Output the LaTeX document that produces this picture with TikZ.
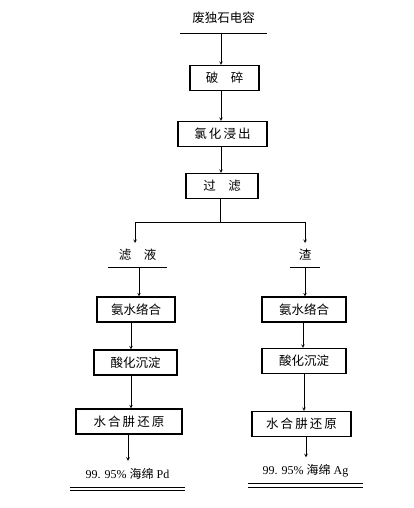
\documentclass[tikz,border=0pt]{standalone}
\usepackage{fontspec}
\setmainfont{Liberation Serif}
\newfontfamily\cjk{Noto Sans CJK SC}
\usepackage{tikz}
\usetikzlibrary{positioning}

\begin{document}
\begin{tikzpicture}[
		x=1pt, y=-1pt,
		box/.style={draw, fill=white, line width=1.1pt, minimum height=25pt, inner sep=0pt, align=center, font=\cjk\fontsize{12.5}{14}\selectfont},
		lbl/.style={inner sep=0pt, minimum height=24pt, font=\cjk\fontsize{12.5}{14}\selectfont},
		prod/.style={inner sep=0pt, minimum height=26pt, font=\fontsize{12}{14}\selectfont},
		arrow/.style={->, >=stealth, line width=0.6pt},
		link/.style={line width=0.6pt}
	]
	\useasboundingbox (0,0) rectangle (414,508);

	% main chain
	\node[lbl, minimum width=87pt, minimum height=30pt] (scrap) at (223.5,18) {废独石电容};
	\node[box, minimum width=69pt] (crush) at (224.5,78) {破\quad 碎};
	\node[box, minimum width=89pt] (leach) at (222.5,134) {氯\,化\,浸\,出};
	\node[box, minimum width=72pt] (filter) at (222,186) {过\quad 滤};

	\draw[link] (scrap.south west) -- (scrap.south east);
	\draw[arrow] (scrap.south -| 221,0) -- (crush.north -| 221,0);
	\draw[arrow] (crush.south -| 221,0) -- (leach.north -| 221,0);
	\draw[arrow] (leach.south -| 221,0) -- (filter.north -| 221,0);

	% split
	\coordinate (split) at (220,222);
	\coordinate (splitL) at (135,222);
	\coordinate (splitR) at (305,222);
	\node[lbl, minimum width=59pt] (liquor) at (137.5,255) {滤\quad 液};
	\node[lbl, minimum width=30pt] (residue) at (305,255) {渣};
	\draw[link] (filter.south -| split) -- (split);
	\draw[link] (splitL) -- (splitR);
	\draw[arrow] (splitL) -- ++(0,21);
	\draw[arrow] (splitR) -- ++(0,21);
	\draw[link] (liquor.south west) -- (liquor.south east);
	\draw[link] (residue.south west) -- (residue.south east);

	% Pd branch
	\node[box, minimum width=78pt] (complexL) at (136,309.5) {氨水络合};
	\node[box, minimum width=83pt] (acidL) at (135.5,362.5) {酸化沉淀};
	\node[box, minimum width=106pt] (reduceL) at (129,421.5) {水\,合\,肼\,还\,原};
	\node[prod, minimum width=115pt] (pd) at (127.5,474) {99. 95\% {\cjk 海绵} Pd};

	\draw[arrow] (liquor.south -| 139,0) -- (complexL.north -| 139,0);
	\draw[arrow] (complexL.south -| 131,0) -- (acidL.north -| 131,0);
	\draw[arrow] (acidL.south -| 131,0) -- (reduceL.north -| 131,0);
	\draw[arrow] (reduceL.south -| 128,0) -- (pd.north -| 128,0);
	\draw[link] (pd.south west) -- (pd.south east);
	\draw[link] ([yshift=-3pt]pd.south west) -- ([yshift=-3pt]pd.south east);

	% Ag branch
	\node[box, minimum width=84pt] (complexR) at (304,309.5) {氨水络合};
	\node[box, minimum width=84pt] (acidR) at (304,361) {酸化沉淀};
	\node[box, minimum width=99pt] (reduceR) at (301.5,424) {水\,合\,肼\,还\,原};
	\node[prod, minimum width=115pt] (ag) at (305.5,470.5) {99. 95\% {\cjk 海绵} Ag};

	\draw[arrow] (residue.south) -- (complexR.north -| residue.south);
	\draw[arrow] (complexR.south -| 303,0) -- (acidR.north -| 303,0);
	\draw[arrow] (acidR.south -| 304,0) -- (reduceR.north -| 304,0);
	\draw[arrow] (reduceR.south -| 306,0) -- (ag.north -| 306,0);
	\draw[link] (ag.south west) -- (ag.south east);
	\draw[link] ([yshift=-4pt]ag.south west) -- ([yshift=-4pt]ag.south east);
\end{tikzpicture}
\end{document}
